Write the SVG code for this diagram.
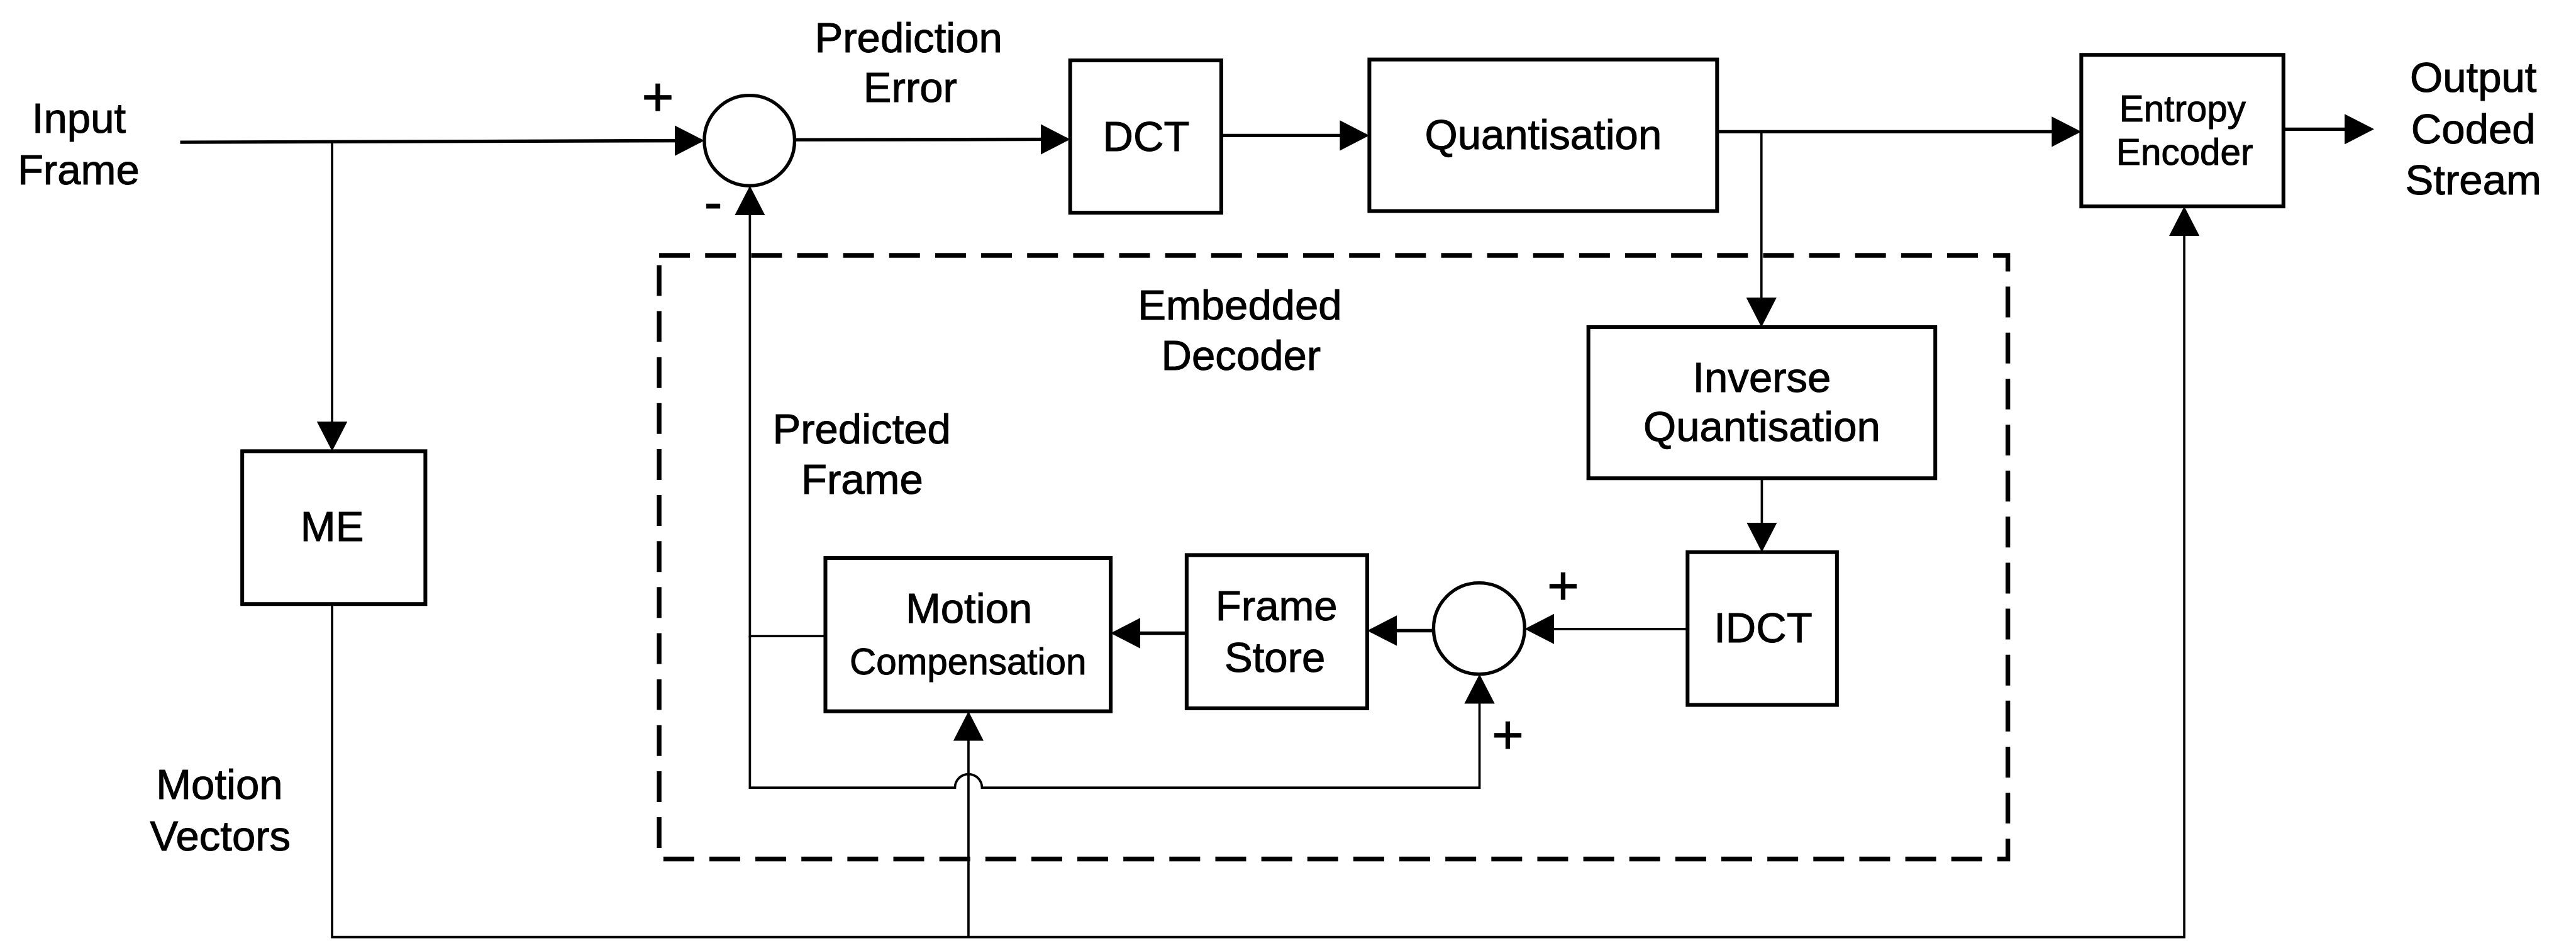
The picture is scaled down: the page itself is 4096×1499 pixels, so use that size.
<svg xmlns="http://www.w3.org/2000/svg" width="4096" height="1499" viewBox="0 0 4096 1499">
  <style>
    .box { fill: #fff; stroke: #000; stroke-width: 9; }
    .sum { fill: #fff; stroke: #000; stroke-width: 8; }
    .wire { fill: none; stroke: #000; stroke-width: 8; }
    .thin { fill: none; stroke: #000; stroke-width: 5.5; }
    .dash { fill: none; stroke: #000; stroke-width: 11; stroke-dasharray: 73 36; }
    text { font-family: "Liberation Sans", Arial, Helvetica, sans-serif; fill: #000; stroke: #000; stroke-width: 1.5; text-anchor: middle; }
    .t { font-size: 100px; }
    .s { font-size: 87px; }
    .sg { font-size: 130px; }
  </style>
  <defs>
    <marker id="ah" markerUnits="userSpaceOnUse" markerWidth="70" markerHeight="72" viewBox="0 0 70 72" refX="63" refY="36" orient="auto">
      <path d="M0,0 L70,36 L0,72 z" fill="#000"/>
    </marker>
  </defs>
  <rect width="4096" height="1499" fill="#fff"/>
  <!-- drawn in source units, scaled to the window -->
  <g id="diagram" transform="scale(0.671)">
    <g id="decoder-boundary">
      <rect class="dash" x="1562" y="605" width="3196" height="1430"/>
      <text class="t" x="2938" y="757">Embedded</text>
      <text class="t" x="2941" y="877">Decoder</text>
    </g>

    <g id="connectors">
      <path class="wire" d="M427,337 L1662,333" marker-end="url(#ah)"/>
      <path class="thin" d="M787,337 V1062" marker-end="url(#ah)"/>
      <path class="wire" d="M1883,331 L2529,330" marker-end="url(#ah)"/>
      <path class="wire" d="M2894,321 H3238" marker-end="url(#ah)"/>
      <path class="wire" d="M4069,312 H4925" marker-end="url(#ah)"/>
      <path class="wire" d="M5411,306 H5619" marker-end="url(#ah)"/>
      <path class="thin" d="M4174,312 V768" marker-end="url(#ah)"/>
      <path class="thin" d="M4175,1133 V1301" marker-end="url(#ah)"/>
      <path class="thin" d="M3999,1490 H3620" marker-end="url(#ah)"/>
      <path class="wire" d="M3398,1494 H3247" marker-end="url(#ah)"/>
      <path class="wire" d="M2812,1500 H2639" marker-end="url(#ah)"/>
      <path class="thin" d="M1956,1507 H1777 V447" marker-end="url(#ah)"/>
      <path class="thin" d="M1777,1507 V1866 H2263 A32,32 0 0 1 2327,1866 H3506 V1604" marker-end="url(#ah)"/>
      <path class="thin" d="M787,1431 V2220 H5176 V496" marker-end="url(#ah)"/>
      <path class="thin" d="M2295,2220 V1692" marker-end="url(#ah)"/>
    </g>

    <g id="input-label">
      <text class="t" x="187" y="315">Input</text>
      <text class="t" x="186" y="437">Frame</text>
    </g>
    <g id="prediction-error-label">
      <text class="t" x="2153" y="123">Prediction</text>
      <text class="t" x="2157" y="242">Error</text>
    </g>
    <g id="output-label">
      <text class="t" x="5861" y="217">Output</text>
      <text class="t" x="5861" y="340">Coded</text>
      <text class="t" x="5861" y="461">Stream</text>
    </g>
    <g id="motion-vectors-label">
      <text class="t" x="520" y="1893">Motion</text>
      <text class="t" x="522" y="2015">Vectors</text>
    </g>
    <g id="predicted-frame-label">
      <text class="t" x="2042" y="1050">Predicted</text>
      <text class="t" x="2043" y="1170">Frame</text>
    </g>

    <g id="subtractor">
      <circle class="sum" cx="1776" cy="333" r="107"/>
      <text class="sg" x="1559" y="274">+</text>
      <text class="sg" x="1690" y="523">-</text>
    </g>
    <g id="dct">
      <rect class="box" x="2536" y="143" width="358" height="361"/>
      <text class="t" x="2716" y="357">DCT</text>
    </g>
    <g id="quantisation">
      <rect class="box" x="3245" y="141" width="824" height="359"/>
      <text class="t" x="3657" y="353">Quantisation</text>
    </g>
    <g id="entropy-encoder">
      <rect class="box" x="4932" y="130" width="479" height="359"/>
      <text class="s" x="5172" y="288">Entropy</text>
      <text class="s" x="5177" y="391">Encoder</text>
    </g>
    <g id="me">
      <rect class="box" x="574" y="1069" width="434" height="362"/>
      <text class="t" x="787" y="1282">ME</text>
    </g>
    <g id="inverse-quantisation">
      <rect class="box" x="3764" y="775" width="822" height="358"/>
      <text class="t" x="4175" y="928">Inverse</text>
      <text class="t" x="4175" y="1045">Quantisation</text>
    </g>
    <g id="idct">
      <rect class="box" x="3999" y="1308" width="354" height="362"/>
      <text class="t" x="4178" y="1522">IDCT</text>
    </g>
    <g id="adder">
      <circle class="sum" cx="3505" cy="1489" r="108"/>
      <text class="sg" x="3704" y="1432">+</text>
      <text class="sg" x="3573" y="1785">+</text>
    </g>
    <g id="frame-store">
      <rect class="box" x="2812" y="1315" width="428" height="363"/>
      <text class="t" x="3025" y="1469">Frame</text>
      <text class="t" x="3021" y="1591">Store</text>
    </g>
    <g id="motion-compensation">
      <rect class="box" x="1956" y="1322" width="676" height="363"/>
      <text class="t" x="2296" y="1476">Motion</text>
      <text class="s" x="2294" y="1598">Compensation</text>
    </g>
  </g>
</svg>
